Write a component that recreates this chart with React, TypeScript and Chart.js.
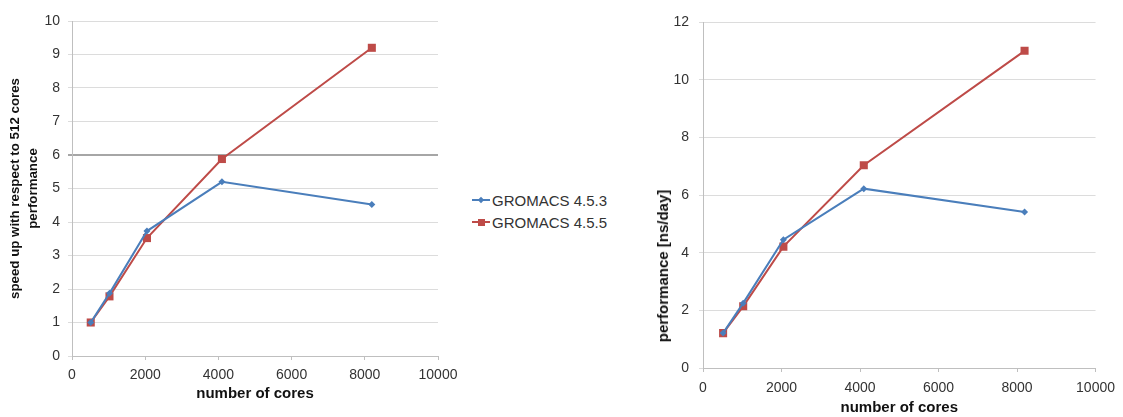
import React, { useEffect, useRef } from 'react';
import { Chart, registerables } from 'chart.js';

Chart.register(...registerables);

const cores = [512, 1024, 2048, 4096, 8192];
const speedup453 = [1, 1.87, 3.73, 5.2, 4.52];
const speedup455 = [1, 1.78, 3.52, 5.88, 9.2];
const perf453 = [1.21, 2.25, 4.45, 6.22, 5.41];
const perf455 = [1.21, 2.14, 4.21, 7.03, 11.0];
const seriesNames = ['GROMACS 4.5.3', 'GROMACS 4.5.5'];
const xTitle = 'number of cores';
const leftYTitle = ['speed up with respect to 512 cores', 'performance'];
const rightYTitle = 'performance [ns/day]';

const BLUE = '#4a7ebb';
const RED = '#be4b48';
const FONT = "'Liberation Sans', Arial, sans-serif";

type Geom = {
  width: number;
  yWidth: number;
  xHeight: number;
  padTop: number;
  padRight: number;
  yTitlePad: number;
  yTitleSize: number;
  yTitleLH: number;
  yTickPad: number;
  xTickPad: number;
  xTitlePad: number;
  yMax: number;
  yStep: number;
  highlight: number | null;
};

function toPoints(vals: number[]) {
  return cores.map((c, i) => ({ x: c, y: vals[i] }));
}

function LineChart(props: { a: number[]; b: number[]; yTitle: string | string[] | null; geom: Geom }) {
  const ref = useRef<HTMLCanvasElement | null>(null);
  useEffect(() => {
    const g = props.geom;
    const chart = new Chart(ref.current as HTMLCanvasElement, {
      type: 'line',
      data: {
        datasets: [
          {
            label: seriesNames[0],
            data: toPoints(props.a),
            borderColor: BLUE,
            backgroundColor: BLUE,
            borderWidth: 2,
            pointStyle: 'rectRot',
            pointRadius: 3.5,
            pointBorderWidth: 0,
            tension: 0,
          },
          {
            label: seriesNames[1],
            data: toPoints(props.b),
            borderColor: RED,
            backgroundColor: RED,
            borderWidth: 2,
            pointStyle: 'rect',
            pointRadius: 5.7,
            pointBorderWidth: 0,
            tension: 0,
          },
        ],
      },
      options: {
        responsive: false,
        animation: false,
        layout: { padding: { left: 0, top: g.padTop, right: g.padRight, bottom: 0 } },
        plugins: { legend: { display: false }, tooltip: { enabled: false } },
        scales: {
          x: {
            type: 'linear',
            min: 0,
            max: 10000,
            ticks: {
              stepSize: 2000,
              color: '#333',
              font: { family: FONT, size: 14 },
              padding: g.xTickPad,
              maxRotation: 0,
              callback: (v: any) => String(v),
            },
            grid: { drawOnChartArea: false, drawTicks: true, tickLength: 4, color: '#bfbfbf' },
            border: { display: true, color: '#bfbfbf' },
            title: {
              display: true,
              text: xTitle,
              color: '#111',
              font: { family: FONT, size: 15, weight: 'bold', lineHeight: 1.2 },
              padding: { top: 0, bottom: g.xTitlePad },
            },
            afterFit: (s: any) => {
              s.height = g.xHeight;
            },
          },
          y: {
            type: 'linear',
            min: 0,
            max: g.yMax,
            ticks: {
              stepSize: g.yStep,
              color: '#333',
              font: { family: FONT, size: 14 },
              padding: g.yTickPad,
              callback: (v: any) => String(v),
            },
            grid: {
              drawTicks: true,
              tickLength: 4,
              color: (c: any) => (g.highlight !== null && c.tick && c.tick.value === g.highlight ? '#a6a6a6' : '#dcdcdc'),
              lineWidth: (c: any) => (g.highlight !== null && c.tick && c.tick.value === g.highlight ? 2 : 1),
            },
            border: { display: true, color: '#bfbfbf' },
            title: {
              display: props.yTitle !== null,
              text: props.yTitle || '',
              color: '#111',
              font: { family: FONT, size: g.yTitleSize, weight: 'bold', lineHeight: g.yTitleLH },
              padding: { top: g.yTitlePad, bottom: 0 },
            },
            afterFit: (s: any) => {
              s.width = g.yWidth;
            },
          },
        },
      },
    } as any);
    return () => chart.destroy();
  }, []);
  return <canvas ref={ref} width={props.geom.width} height={417} />;
}

function LegendRow(props: { color: string; label: string; square: boolean; top: number }) {
  const m = props.square ? 7 : 6;
  return (
    <div style={{ position: 'absolute', left: 472, top: props.top - 10, height: 20, display: 'flex', alignItems: 'center' }}>
      <div style={{ position: 'relative', width: 18, height: 20 }}>
        <div style={{ position: 'absolute', left: 0, top: 9, width: 18, height: 2, background: props.color }} />
        <div
          style={{
            position: 'absolute',
            left: 9 - m / 2,
            top: 10 - m / 2,
            width: m,
            height: m,
            background: props.color,
            transform: props.square ? 'none' : 'rotate(45deg) scale(0.75)',
          }}
        />
      </div>
      <span style={{ marginLeft: 2, fontFamily: FONT, fontSize: 15, color: '#333', whiteSpace: 'nowrap' }}>{props.label}</span>
    </div>
  );
}

export default function App() {
  const leftGeom: Geom = {
    width: 470,
    yWidth: 72,
    xHeight: 61,
    padTop: 21,
    padRight: 32,
    yTitlePad: 6,
    yTitleSize: 13.3,
    yTitleLH: 1.35,
    yTickPad: 8,
    xTickPad: 7,
    xTitlePad: 14,
    yMax: 10,
    yStep: 1,
    highlight: 6,
  };
  const rightGeom: Geom = {
    width: 483,
    yWidth: 63,
    xHeight: 49,
    padTop: 22,
    padRight: 23,
    yTitlePad: 14,
    yTitleSize: 15,
    yTitleLH: 1.2,
    yTickPad: 10,
    xTickPad: 8,
    xTitlePad: 0,
    yMax: 12,
    yStep: 2,
    highlight: null,
  };
  return (
    <div style={{ position: 'fixed', left: 0, top: 0, width: 1123, height: 417, background: '#fff', overflow: 'hidden' }}>
      <div style={{ position: 'absolute', left: 0, top: 0 }}>
        <LineChart a={speedup453} b={speedup455} yTitle={leftYTitle} geom={leftGeom} />
      </div>
      <LegendRow color={BLUE} label={seriesNames[0]} square={false} top={200} />
      <LegendRow color={RED} label={seriesNames[1]} square={true} top={222} />
      <div style={{ position: 'absolute', left: 640, top: 0 }}>
        <LineChart a={perf453} b={perf455} yTitle={null} geom={rightGeom} />
      </div>
      <div
        style={{
          position: 'absolute',
          left: 663,
          top: 266,
          width: 0,
          height: 0,
        }}
      >
        <span
          style={{
            position: 'absolute',
            left: 0,
            top: 0,
            transform: 'translate(-50%, -50%) rotate(-90deg)',
            fontFamily: FONT,
            fontSize: 15,
            fontWeight: 'bold',
            color: '#111',
            whiteSpace: 'nowrap',
            lineHeight: '18px',
          }}
        >
          {rightYTitle}
        </span>
      </div>
    </div>
  );
}
